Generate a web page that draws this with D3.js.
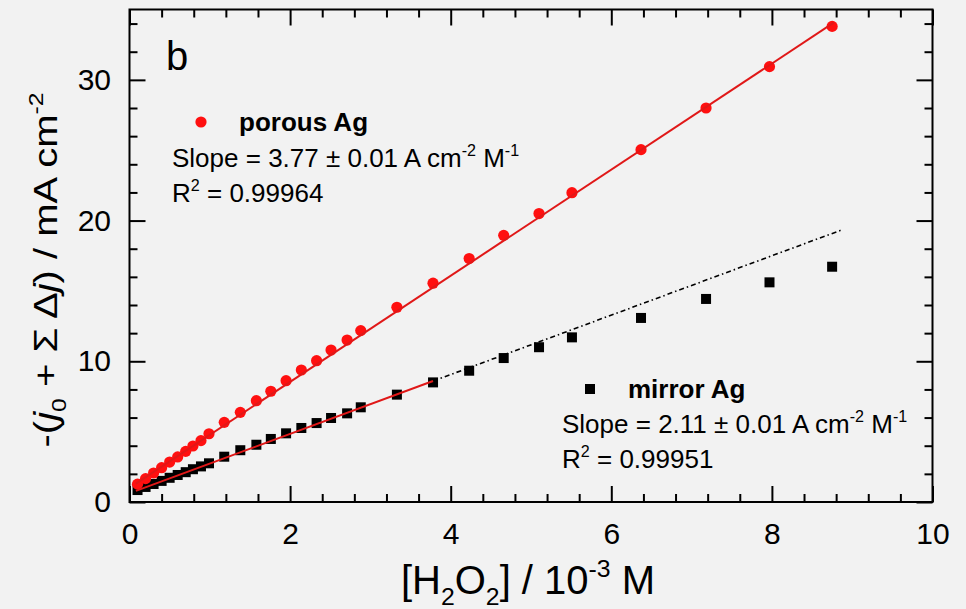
<!DOCTYPE html>
<html>
<head>
<meta charset="utf-8">
<script src="https://cdn.jsdelivr.net/npm/d3@7"></script>
<style>
  html, body { margin: 0; padding: 0; background: #f2f2f2; }
  svg { display: block; font-family: "Liberation Sans", Arial, Helvetica, sans-serif; }
</style>
</head>
<body>
<svg id="chart" width="966" height="609"></svg>
<script>
// H2O2 concentration (10^-3 M) for each measurement
const concentration = [0.10, 0.20, 0.30, 0.40, 0.50, 0.60, 0.70, 0.79, 0.89, 0.99,
  1.18, 1.38, 1.58, 1.76, 1.95, 2.14, 2.33, 2.51, 2.71, 2.88,
  3.33, 3.78, 4.23, 4.66, 5.10, 5.51, 6.37, 7.18, 7.97, 8.75];

// -(j0 + ΣΔj) in mA cm^-2
const porousAg = [1.27, 1.66, 2.06, 2.44, 2.84, 3.20, 3.60, 3.98, 4.36, 4.85,
  5.66, 6.37, 7.20, 7.87, 8.62, 9.38, 10.04, 10.80, 11.51, 12.18,
  13.84, 15.55, 17.30, 18.95, 20.50, 21.98, 25.04, 28.00, 30.94, 33.80];
const mirrorAg = [0.85, 1.07, 1.28, 1.50, 1.72, 1.92, 2.12, 2.33, 2.53, 2.75,
  3.22, 3.68, 4.07, 4.48, 4.88, 5.26, 5.61, 5.97, 6.30, 6.73,
  7.63, 8.50, 9.33, 10.23, 11.00, 11.70, 13.08, 14.43, 15.61, 16.72];

// Linear fits
const porousSlope = 3.77, porousIntercept = 1.0, porousRange = [0.08, 8.77];
const mirrorSlope = 2.11, mirrorIntercept = 0.62;
const mirrorFitRange = [0.08, 3.78];      // fitted region
const mirrorExtendRange = [3.78, 8.88];   // extrapolation

const xMajor = [0, 2, 4, 6, 8, 10];
const yMajor = [0, 10, 20, 30];
const xMinor = d3.range(0, 10.01, 0.4).filter(v => Math.abs(v / 2 - Math.round(v / 2)) > 1e-6);
const yMinor = d3.range(0, 35.01, 2).filter(v => v % 10 !== 0);

const RED = "#ff1010";
const svg = d3.select("#chart");

const plotLeft = 129.5, plotRight = 932.5, plotTop = 9.5, plotBottom = 502;
const x = d3.scaleLinear().domain([0, 10]).range([plotLeft, plotRight]);
const y = d3.scaleLinear().domain([0, 35]).range([plotBottom, plotTop]);

// rich text with sub/superscripts and italics
function richText(textSel, parts, fs) {
  let shift = 0;
  parts.forEach(([t, mode]) => {
    const m = mode || "";
    const target = m.includes("sub") ? 0.28 * fs : m.includes("sup") ? -0.42 * fs : 0;
    const ts = textSel.append("tspan").text(t).attr("dy", target - shift);
    if (m.includes("sub") || m.includes("sup")) ts.attr("font-size", 0.62 * fs);
    if (m.includes("i")) ts.attr("font-style", "italic");
    shift = target;
  });
}

// axes: major + minor ticks pointing inward on all four sides
function styleAxis(g) {
  g.select(".domain").remove();
  g.selectAll(".tick line").attr("stroke", "#000").attr("stroke-width", 2);
  g.selectAll("text").attr("fill", "#000");
}
const xAxisMajor = d3.axisBottom(x).tickValues(xMajor).tickSize(-16).tickPadding(20.5).tickFormat(d3.format("d"));
const xAxisMinor = d3.axisBottom(x).tickValues(xMinor).tickSize(-8).tickFormat("");
svg.append("g").attr("transform", `translate(0,${plotBottom})`).call(xAxisMajor)
  .attr("font-size", 30).attr("font-family", null).call(styleAxis);
svg.append("g").attr("transform", `translate(0,${plotBottom})`).call(xAxisMinor).call(styleAxis);
svg.append("g").attr("transform", `translate(0,${plotTop})`)
  .call(d3.axisTop(x).tickValues(xMajor).tickSize(-16).tickFormat("")).call(styleAxis);
svg.append("g").attr("transform", `translate(0,${plotTop})`)
  .call(d3.axisTop(x).tickValues(xMinor).tickSize(-8).tickFormat("")).call(styleAxis);

const yAxisMajor = d3.axisLeft(y).tickValues(yMajor).tickSize(-16).tickPadding(18.5).tickFormat(d3.format("d"));
svg.append("g").attr("transform", `translate(${plotLeft},0)`).call(yAxisMajor)
  .attr("font-size", 30).attr("font-family", null).call(styleAxis);
svg.append("g").attr("transform", `translate(${plotLeft},0)`)
  .call(d3.axisLeft(y).tickValues(yMinor).tickSize(-8).tickFormat("")).call(styleAxis);
svg.append("g").attr("transform", `translate(${plotRight},0)`)
  .call(d3.axisRight(y).tickValues(yMajor).tickSize(-16).tickFormat("")).call(styleAxis);
svg.append("g").attr("transform", `translate(${plotRight},0)`)
  .call(d3.axisRight(y).tickValues(yMinor).tickSize(-8).tickFormat("")).call(styleAxis);

// frame
svg.append("rect").attr("x", plotLeft).attr("y", plotTop)
  .attr("width", plotRight - plotLeft).attr("height", plotBottom - plotTop)
  .attr("fill", "none").attr("stroke", "#000").attr("stroke-width", 2);

// data markers
const porousData = concentration.map((c, i) => [c, porousAg[i]]);
const mirrorData = concentration.map((c, i) => [c, mirrorAg[i]]);

svg.append("g").selectAll("rect").data(mirrorData).join("rect")
  .attr("x", d => x(d[0]) - 5).attr("y", d => y(d[1]) - 5)
  .attr("width", 10).attr("height", 10).attr("fill", "#000");

svg.append("g").selectAll("circle").data(porousData).join("circle")
  .attr("cx", d => x(d[0])).attr("cy", d => y(d[1])).attr("r", 5.6).attr("fill", RED);

// fit lines
const line = d3.line().x(d => x(d[0])).y(d => y(d[1]));
const fitPts = (m, b, r) => r.map(v => [v, m * v + b]);

svg.append("path").datum(fitPts(mirrorSlope, mirrorIntercept, mirrorExtendRange))
  .attr("d", line).attr("fill", "none").attr("stroke", "#000")
  .attr("stroke-width", 1.6).attr("stroke-dasharray", "5,3,1.5,3");
svg.append("path").datum(fitPts(mirrorSlope, mirrorIntercept, mirrorFitRange))
  .attr("d", line).attr("fill", "none").attr("stroke", "#e01818").attr("stroke-width", 2);
svg.append("path").datum(fitPts(porousSlope, porousIntercept, porousRange))
  .attr("d", line).attr("fill", "none").attr("stroke", "#e01818").attr("stroke-width", 2);

// panel label
svg.append("text").attr("x", 166).attr("y", 70).attr("font-size", 40).text("b");

// legend: porous Ag
svg.append("circle").attr("cx", 201).attr("cy", 122).attr("r", 5.6).attr("fill", RED);
svg.append("text").attr("x", 239).attr("y", 131).attr("font-size", 26)
  .attr("font-weight", "bold").text("porous Ag");
richText(svg.append("text").attr("x", 172).attr("y", 167).attr("font-size", 26),
  [["Slope = " + porousSlope.toFixed(2) + " \u00b1 0.01 A cm"], ["-2", "sup"], [" M"], ["-1", "sup"]], 26);
richText(svg.append("text").attr("x", 172).attr("y", 202).attr("font-size", 26),
  [["R"], ["2", "sup"], [" = 0.99964"]], 26);

// legend: mirror Ag
svg.append("rect").attr("x", 585).attr("y", 384).attr("width", 10).attr("height", 10).attr("fill", "#000");
svg.append("text").attr("x", 628).attr("y", 398).attr("font-size", 26)
  .attr("font-weight", "bold").text("mirror Ag");
richText(svg.append("text").attr("x", 562).attr("y", 433).attr("font-size", 26),
  [["Slope = " + mirrorSlope.toFixed(2) + " \u00b1 0.01 A cm"], ["-2", "sup"], [" M"], ["-1", "sup"]], 26);
richText(svg.append("text").attr("x", 562).attr("y", 468).attr("font-size", 26),
  [["R"], ["2", "sup"], [" = 0.99951"]], 26);

// axis titles
richText(svg.append("text").attr("x", 528).attr("y", 594).attr("font-size", 40).attr("text-anchor", "middle"),
  [["[H"], ["2", "sub"], ["O"], ["2", "sub"], ["] / 10"], ["-3", "sup"], [" M"]], 40);

const yTitle = svg.append("g").attr("transform", "translate(57,270) rotate(-90) scale(1,0.82)");
richText(yTitle.append("text").attr("font-size", 40).attr("text-anchor", "middle"),
  [["-("], ["j", "i"], ["0", "sub"], [" + \u03a3 \u0394"], ["j", "i"], [") / mA cm"], ["-2", "sup"]], 40);
</script>
</body>
</html>
